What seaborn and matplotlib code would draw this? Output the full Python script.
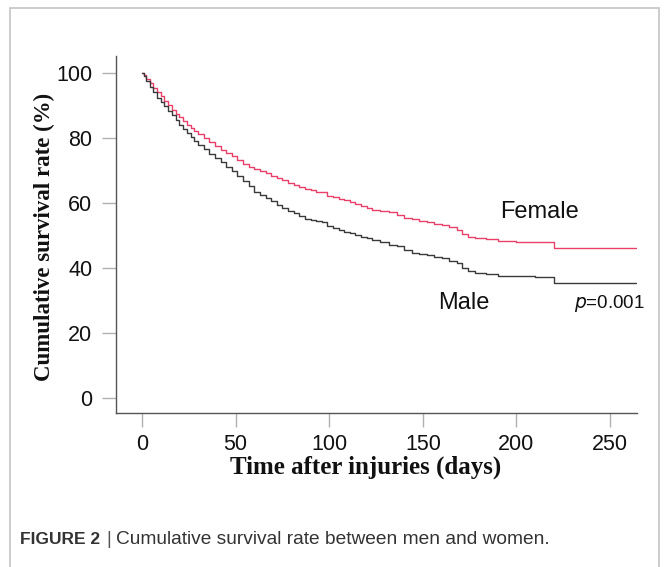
import matplotlib
matplotlib.use("Agg")
import matplotlib.pyplot as plt
import seaborn as sns
import pandas as pd
from matplotlib.patches import Rectangle

# ---- data (Kaplan-Meier step curves) ----
female_time = [0, 1, 2, 4, 6, 8, 10, 12, 14, 16, 18, 20, 22, 24, 26, 28, 30, 33, 36, 39,
               42, 45, 48, 51, 54, 57, 60, 63, 66, 69, 72, 75, 78, 81, 84, 87, 90, 93, 96,
               99, 102, 105, 108, 111, 114, 117, 120, 123, 127, 132, 136, 140, 144, 148,
               152, 156, 160, 164, 168, 171, 174, 178, 184, 190, 200, 210, 220, 264]
female_surv = [100, 99.3, 98.2, 96.8, 95.4, 94.1, 92.8, 91.4, 90.0, 88.7, 87.5, 86.4, 85.2,
               84.1, 83.1, 82.1, 81.2, 79.9, 78.6, 77.4, 76.4, 75.4, 74.3, 73.2, 72.1, 71.1,
               70.4, 69.7, 69.1, 68.4, 67.7, 67.0, 66.2, 65.5, 64.8, 64.3, 63.9, 63.5, 63.3,
               62.2, 61.8, 61.3, 60.8, 60.4, 59.8, 59.2, 58.6, 57.8, 57.5, 57.1, 56.4, 55.5,
               55.0, 54.5, 54.2, 53.6, 53.1, 52.6, 51.7, 50.6, 49.6, 49.2, 48.8, 48.3, 48.1,
               47.9, 46.1, 46.1]

male_time = [0, 1, 2, 4, 6, 8, 10, 12, 14, 16, 18, 20, 22, 24, 26, 28, 30, 33, 36, 39,
             42, 45, 48, 51, 54, 57, 60, 63, 66, 69, 72, 75, 78, 81, 84, 87, 90, 93, 96,
             99, 102, 105, 108, 111, 114, 117, 120, 123, 127, 132, 136, 140, 144, 148,
             152, 156, 160, 164, 168, 171, 174, 178, 184, 190, 200, 210, 220, 264]
male_surv = [100, 99.0, 97.6, 95.8, 94.0, 92.4, 91.1, 89.8, 88.3, 86.9, 85.4, 84.1, 82.8,
             81.4, 80.2, 79.0, 77.9, 76.5, 75.1, 73.8, 72.5, 71.1, 69.8, 68.3, 66.8, 65.2,
             63.4, 62.3, 61.4, 60.5, 59.5, 58.5, 57.6, 56.8, 55.9, 55.2, 54.7, 54.3, 54.0,
             52.9, 52.4, 51.8, 51.2, 50.7, 50.2, 49.6, 49.1, 48.6, 48.0, 47.2, 46.8, 45.4,
             44.7, 44.2, 43.9, 43.5, 43.1, 42.3, 41.4, 40.0, 39.1, 38.6, 38.0, 37.6, 37.4,
             37.1, 35.3, 35.3]

x_ticks = [0, 50, 100, 150, 200, 250]
y_ticks = [0, 20, 40, 60, 80, 100]

groups = ["Female", "Male"]
colors = {"Female": "#e8406a", "Male": "#3a3a3a"}

df = pd.concat([
    pd.DataFrame({"time": female_time, "surv": female_surv, "sex": "Female"}),
    pd.DataFrame({"time": male_time, "surv": male_surv, "sex": "Male"}),
], ignore_index=True)

sns.set_theme(style="white")
plt.rcParams["font.family"] = ["Liberation Sans", "DejaVu Sans"]

W, H = 665, 567
fig = plt.figure(figsize=(W / 100, H / 100), dpi=100)
ax = fig.add_axes([116 / W, 1 - 413 / H, (637 - 116) / W, (413 - 56) / H])

sns.lineplot(data=df, x="time", y="surv", hue="sex", hue_order=groups,
             palette=colors, drawstyle="steps-post", estimator=None,
             linewidth=1.0, legend=False, ax=ax)

ax.set_xlim(-13.9, 264.4)
ax.set_ylim(-4.6, 105.2)
ax.set_xticks(x_ticks)
ax.set_yticks(y_ticks)
ax.tick_params(axis="both", which="both", length=10, width=1, color="#b0b0b0",
               labelsize=15.5, labelcolor="#111111", direction="out",
               bottom=True, left=True)
ax.tick_params(axis="x", pad=5)
ax.tick_params(axis="y", pad=7)
for s in ["top", "right"]:
    ax.spines[s].set_visible(False)
for s in ["left", "bottom"]:
    ax.spines[s].set_color("#555555")
    ax.spines[s].set_linewidth(1.0)
ax.grid(False)

ax.set_xlabel("")
ax.set_ylabel("")
fig.text(366 / W, 1 - 467 / H, "Time after injuries (days)", ha="center", va="center",
         fontsize=18, fontweight="bold", family=["Liberation Serif", "DejaVu Serif"],
         color="#111111")
fig.text(44 / W, 1 - 237 / H, "Cumulative survival rate (%)", ha="center", va="center",
         rotation=90, fontsize=16.5, fontweight="bold",
         family=["Liberation Serif", "DejaVu Serif"], color="#111111")

ax.text(212.4, 57.2, "Female", ha="center", va="center", fontsize=17, color="#111111")
ax.text(171.9, 29.2, "Male", ha="center", va="center", fontsize=17, color="#111111")
ax.text(249.8, 29.2, r"$p$=0.001", ha="center", va="center", fontsize=13.5, color="#111111")

# figure frame
fig.patches.append(Rectangle((10 / W, -0.05), (659 - 10) / W, 1.05 - 8 / H,
                             transform=fig.transFigure, fill=False,
                             edgecolor="#c8c8c8", linewidth=1.3))

# caption
cap_y = 1 - 540 / H
t1 = fig.text(20 / W, cap_y, "FIGURE 2", ha="left", va="center", fontsize=12.5,
              fontweight="bold", color="#333333")
fig.canvas.draw()
bb = t1.get_window_extent()
x_bar = bb.x1 + 6
fig.text(x_bar / W, cap_y, "|", ha="left", va="center", fontsize=13.5,
         color="#555555")
fig.text((x_bar + 10) / W, cap_y, "Cumulative survival rate between men and women.",
         ha="left", va="center", fontsize=13.8, color="#333333")

fig.savefig("out.png", dpi=100)
